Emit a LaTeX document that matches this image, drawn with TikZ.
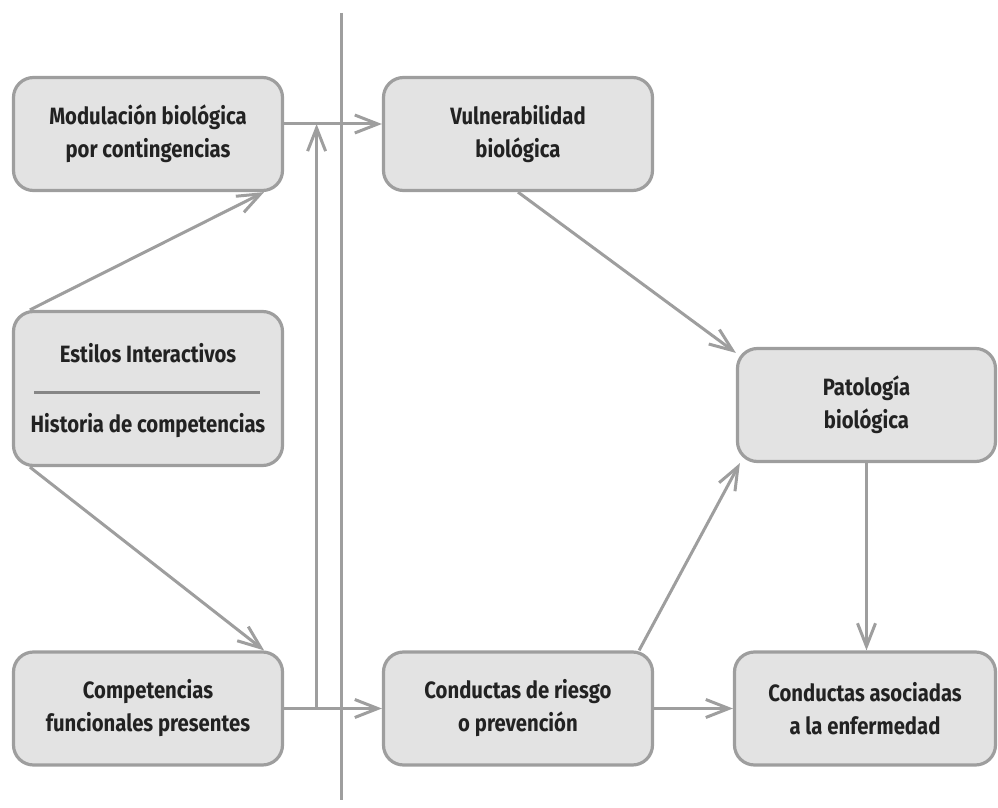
\documentclass[tikz,border=0pt]{standalone}
\usepackage{fontspec}
\setmainfont{Fira Sans}[FakeStretch = 0.86]
\usepackage{tikz}
\usetikzlibrary{arrows.meta, calc}
\definecolor{mygray}{RGB}{158, 158, 158}
\definecolor{mygray2}{RGB}{227, 227, 227}
\definecolor{mydark}{RGB}{34, 34, 34}
\tikzset{>={Straight Barb[length=11.5pt, width=9pt]}}
\tikzset{
caja/.style = {draw = mygray, line width = 1.6pt, fill = mygray2, rounded corners = 10pt,
  minimum width = 134.5pt, minimum height = 56.5pt, align = center, text = mydark,
  font = \fontsize{11.8}{16.5}\bfseries\selectfont},
texto/.style = {text = mydark, font = \fontsize{11.8}{16.5}\bfseries\selectfont},
flecha/.style = {->, draw = mygray, line width = 1.5pt}
}

\begin{document}
\begin{tikzpicture}[x = 0.5pt, y = -0.5pt]
\useasboundingbox (0,0) rectangle (998,808);

% divisor
\draw[mygray, line width = 1.5pt] (341,13) -- (341,800);

% columna izquierda
\node[caja] (mod) at (148,134) {Modulaci\'on biol\'ogica\\por contingencias};
\node[caja, minimum height = 77pt] (est) at (148,388.5) {};
\node[texto, anchor = base] (estA) at (148,363) {Estilos Interactivos};
\node[texto, anchor = base] (estB) at (148,433) {Historia de competencias};
\draw[mygray!85!black, line width = 1.5pt] (34,393) -- (260,393);
\node[caja] (comp) at (148,708.5) {Competencias\\funcionales presentes};

% columna derecha
\node[caja] (vul) at (518,134) {Vulnerabilidad\\biol\'ogica};
\node[caja] (cond) at (518,708.5) {Conductas de riesgo\\o prevenci\'on};
\node[caja, minimum width = 129pt] (pat) at (866.5,405) {Patolog\'ia\\biol\'ogica};
\node[caja, minimum width = 130.5pt] (enf) at (865,708.5) {Conductas asociadas\\a la enfermedad};

% flechas
\draw[flecha] ([xshift = 9pt]est.north west) -- ([xshift = -10pt]mod.south east);
\draw[flecha] ([xshift = 9pt]est.south west) -- ([xshift = -10pt]comp.north east);
\draw[flecha] ([yshift = 5pt]mod.east) -- ([yshift = 5pt]vul.west);
\draw[flecha] (comp.east) -- (cond.west);
\draw[flecha] ([xshift = 16.25pt]comp.east) -- ([xshift = 16.25pt, yshift = 5pt]mod.east);
\draw[flecha] (vul.south) -- ([yshift = -3pt]pat.north west);
\draw[flecha] ([xshift = -7.5pt]cond.north east) -- ([xshift = 2pt]pat.south west);
\draw[flecha] (pat.south) -- (pat.south |- enf.north);
\draw[flecha] (cond.east) -- (enf.west);
\end{tikzpicture}
\end{document}
